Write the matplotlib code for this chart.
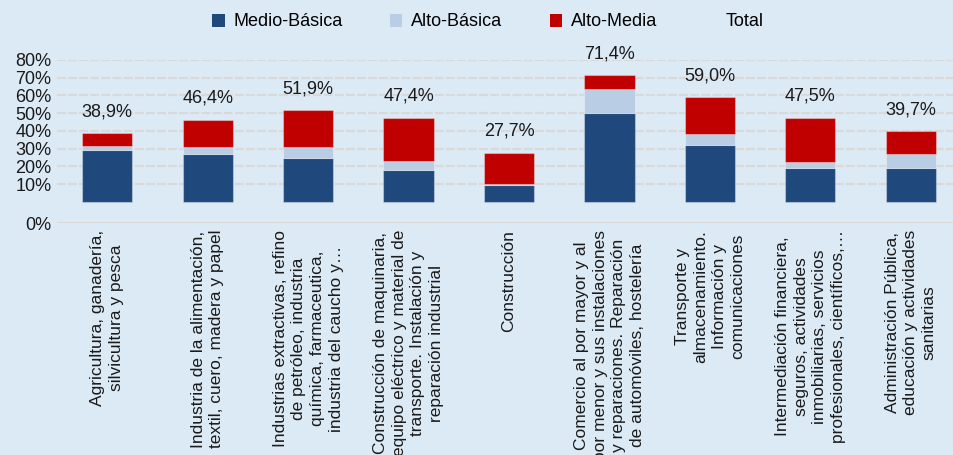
import numpy as np
import matplotlib.pyplot as plt
from matplotlib.patches import Patch

categories = [
    "Agricultura, ganadería,\nsilvicultura y pesca",
    "Industria de la alimentación,\ntextil, cuero, madera y papel",
    "Industrias extractivas, refino\nde petróleo, industria\nquímica, farmaceutica,\nindustria del caucho y…",
    "Construcción de maquinaria,\nequipo eléctrico y material de\ntransporte. Instalación y\nreparación industrial",
    "Construcción",
    "Comercio al por mayor y al\npor menor y sus instalaciones\ny reparaciones. Reparación\nde automóviles, hostelería",
    "Transporte y\nalmacenamiento.\nInformación y\ncomunicaciones",
    "Intermediación financiera,\nseguros, actividades\ninmobiliarias, servicios\nprofesionales, científicos,…",
    "Administración Pública,\neducación y actividades\nsanitarias",
]
medio_basica = [29.0, 27.0, 24.5, 17.7, 9.2, 49.9, 32.2, 19.2, 19.2]
alto_basica = [2.5, 4.0, 6.4, 5.3, 0.8, 13.7, 6.2, 3.0, 7.7]
alto_media = [7.4, 15.4, 21.0, 24.4, 17.7, 7.8, 20.6, 25.3, 12.8]
total = [38.9, 46.4, 51.9, 47.4, 27.7, 71.4, 59.0, 47.5, 39.7]

ytick_vals = [-12, 10, 20, 30, 40, 50, 60, 70, 80]
ytick_labels = ["0%", "10%", "20%", "30%", "40%", "50%", "60%", "70%", "80%"]

BG = "#dceaf6"
C_MB = "#1f497d"
C_AB = "#b9cde5"
C_AM = "#c00000"

plt.rcParams["font.family"] = ["Liberation Sans", "DejaVu Sans"]

fig = plt.figure(figsize=(9.54, 4.55), dpi=100, facecolor=BG)
ax = fig.add_axes([57 / 954, 1 - 223 / 455, 1 - 57 / 954, 163 / 455])
ax.set_facecolor(BG)

x = np.arange(len(categories))
mb = np.array(medio_basica)
ab = np.array(alto_basica)
am = np.array(alto_media)
edge = dict(edgecolor="#ffffff55", linewidth=0.8)
ax.bar(x, mb, 0.5, color=C_MB, zorder=3, **edge)
ax.bar(x, ab, 0.5, bottom=mb, color=C_AB, zorder=3, **edge)
ax.bar(x, am, 0.5, bottom=mb + ab, color=C_AM, zorder=3, **edge)

for xi, t in zip(x, total):
    ax.text(xi, t + 12, f"{t:.1f}%".replace(".", ","), ha="center", va="center",
            fontsize=13, color="#1a1a1a", clip_on=False)

ax.set_xlim(-0.5, 8.43)
ax.set_ylim(-12, 80)
ax.set_yticks(ytick_vals)
ax.set_yticklabels(ytick_labels, fontsize=13, color="#1a1a1a")
for v in ytick_vals[1:]:
    ax.axhline(v, color="#d9d9d9", lw=1.6, ls=(0, (4, 1)), zorder=1)
ax.axhline(-12, color="#d9d9d9", lw=1.4, zorder=1)
ax.tick_params(axis="y", length=0, pad=4)
ax.tick_params(axis="x", length=0, pad=5)
ax.set_xticks(x)
ax.set_xticklabels(categories, rotation=90, fontsize=12.5, color="#1a1a1a",
                   ha="center", va="top", multialignment="center",
                   linespacing=1.3)
for s in ax.spines.values():
    s.set_visible(False)

handles = [
    Patch(facecolor=C_MB, label="Medio-Básica"),
    Patch(facecolor=C_AB, label="Alto-Básica"),
    Patch(facecolor=C_AM, label="Alto-Media"),
    Patch(facecolor="none", edgecolor="none", label="Total"),
]
fig.legend(handles=handles, loc="center", bbox_to_anchor=(488 / 954, 1 - 22 / 455),
           ncol=4, frameon=False, fontsize=13, handlelength=0.7, handleheight=0.7,
           handletextpad=0.5, columnspacing=2.6)

fig.savefig("out.png", dpi=100, facecolor=BG)
